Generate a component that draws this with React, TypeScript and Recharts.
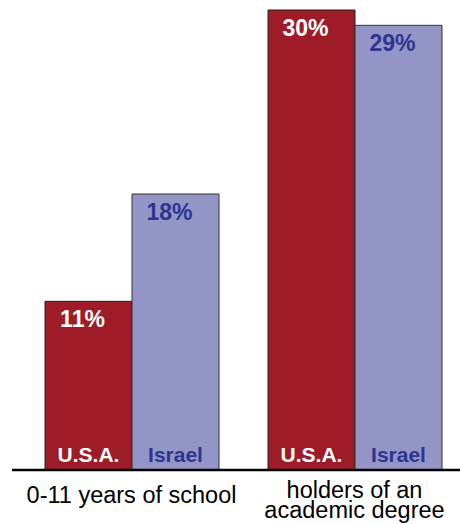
import { BarChart, Bar, XAxis, YAxis, LabelList } from 'recharts'

const categories = ['0-11 years of school', 'holders of an academic degree']
const categoryLines = [['0-11 years of school'], ['holders of an', 'academic degree']]
const usaValues = [11, 30]
const israelValues = [18, 29]
const seriesNames = { usa: 'U.S.A.', israel: 'Israel' }

const data = categories.map((c, i) => ({
  category: c,
  usa: usaValues[i],
  israel: israelValues[i],
}))

const FONT = '"Liberation Sans", Arial, Helvetica, sans-serif'
const RED = '#9d1c27'
const LAVENDER = '#9395c7'
const NAVY = '#2d3590'

const CategoryTick = ({ x, y, index }: any) => {
  const lines = categoryLines[index] || []
  const first = lines.length > 1 ? 28 : 33
  return (
    <text x={x} y={y} textAnchor="middle" fontFamily={FONT} fontSize={23.5} fill="#000">
      {lines.map((l, i) => (
        <tspan key={l} x={x} dy={i === 0 ? first : 20}>
          {l}
        </tspan>
      ))}
    </text>
  )
}

const valueLabel = (color: string) => (props: any) => {
  const { x, y, width, value } = props
  return (
    <text
      x={x + width / 2 - 6}
      y={y + 26}
      textAnchor="middle"
      fontFamily={FONT}
      fontWeight="bold"
      fontSize={23}
      fill={color}
    >
      {value}%
    </text>
  )
}

const nameLabel = (color: string, name: string) => (props: any) => {
  const { x, y, width, height } = props
  return (
    <text
      x={x + width / 2}
      y={y + height - 8}
      textAnchor="middle"
      fontFamily={FONT}
      fontWeight="bold"
      fontSize={21}
      fill={color}
    >
      {name}
    </text>
  )
}

export default function App() {
  return (
    <div
      style={{
        position: 'fixed',
        left: 0,
        top: 0,
        width: 460,
        height: 524,
        overflow: 'hidden',
        background: '#fff',
      }}
    >
      <BarChart
        width={466}
        height={524}
        data={data}
        margin={{ top: 10, right: 0, bottom: 0, left: 12 }}
        barGap={0}
        barSize={87}
      >
        <YAxis hide domain={[0, 30]} />
        <XAxis
          dataKey="category"
          height={54}
          padding={{ left: 8, right: 0 }}
          axisLine={{ stroke: '#000', strokeWidth: 2.5 }}
          tickLine={false}
          tickSize={0}
          tickMargin={0}
          interval={0}
          tick={<CategoryTick />}
        />
        <Bar dataKey="usa" fill={RED} stroke="#222" strokeWidth={1} isAnimationActive={false}>
          <LabelList dataKey="usa" content={valueLabel('#fff')} />
          <LabelList dataKey="usa" content={nameLabel('#fff', seriesNames.usa)} />
        </Bar>
        <Bar dataKey="israel" fill={LAVENDER} stroke="#333" strokeWidth={1} isAnimationActive={false}>
          <LabelList dataKey="israel" content={valueLabel(NAVY)} />
          <LabelList dataKey="israel" content={nameLabel(NAVY, seriesNames.israel)} />
        </Bar>
      </BarChart>
    </div>
  )
}
